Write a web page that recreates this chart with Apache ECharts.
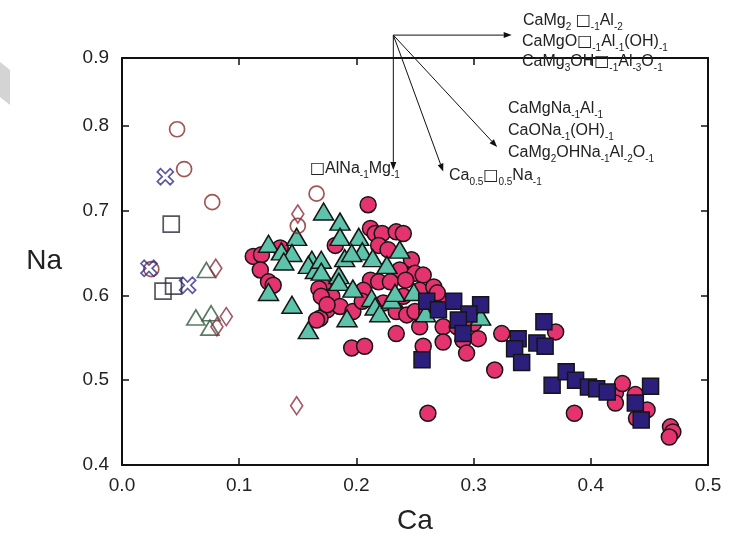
<!DOCTYPE html>
<html>
<head>
<meta charset="utf-8">
<script src="https://cdn.jsdelivr.net/npm/echarts@6/dist/echarts.min.js"></script>
<style>
  html, body { margin: 0; padding: 0; background: #fff; }
  #main { width: 733px; height: 543px; }
</style>
</head>
<body>
<div id="main"></div>
<script>
// Ca / Na data, [Ca, Na]
var openCircles = [[0.047, 0.796], [0.053, 0.749], [0.077, 0.710], [0.025, 0.631], [0.166, 0.720], [0.150, 0.682]];
var openCrosses = [[0.037, 0.740], [0.023, 0.632], [0.056, 0.612]];
var openSquares = [[0.042, 0.684], [0.035, 0.605], [0.044, 0.611]];
var openTriangles = [[0.072, 0.630], [0.063, 0.574], [0.076, 0.579], [0.075, 0.562]];
var openDiamonds = [[0.080, 0.632], [0.089, 0.575], [0.081, 0.563], [0.150, 0.696], [0.149, 0.470]];

var filledCircles = [
  [0.210, 0.707], [0.212, 0.679], [0.216, 0.673], [0.222, 0.673], [0.234, 0.675], [0.240, 0.673],
  [0.219, 0.659], [0.182, 0.659], [0.227, 0.654], [0.247, 0.642], [0.237, 0.630], [0.250, 0.626],
  [0.212, 0.618], [0.219, 0.616], [0.229, 0.616], [0.242, 0.618], [0.257, 0.624], [0.172, 0.610],
  [0.179, 0.599], [0.206, 0.606], [0.240, 0.599], [0.254, 0.606], [0.175, 0.583], [0.186, 0.587],
  [0.197, 0.581], [0.205, 0.593], [0.223, 0.591], [0.234, 0.581], [0.243, 0.577], [0.250, 0.581],
  [0.254, 0.563], [0.234, 0.555], [0.196, 0.538], [0.207, 0.540], [0.257, 0.540], [0.169, 0.573],
  [0.261, 0.461], [0.112, 0.646], [0.119, 0.648], [0.135, 0.656], [0.118, 0.630], [0.125, 0.616],
  [0.129, 0.612], [0.168, 0.608], [0.170, 0.599], [0.175, 0.589], [0.166, 0.571], [0.266, 0.610],
  [0.271, 0.595], [0.269, 0.603], [0.274, 0.563], [0.286, 0.563], [0.300, 0.567], [0.304, 0.549],
  [0.291, 0.547], [0.274, 0.545], [0.294, 0.532], [0.324, 0.555], [0.318, 0.512], [0.370, 0.557],
  [0.386, 0.461], [0.421, 0.485], [0.427, 0.496], [0.438, 0.483], [0.448, 0.465], [0.439, 0.455],
  [0.421, 0.473], [0.468, 0.445], [0.470, 0.439], [0.467, 0.433], [0.260, 0.579]
];
var filledTriangles = [
  [0.172, 0.699], [0.125, 0.661], [0.149, 0.669], [0.136, 0.652], [0.145, 0.650], [0.138, 0.640],
  [0.162, 0.642], [0.159, 0.636], [0.165, 0.630], [0.125, 0.604], [0.145, 0.589], [0.159, 0.559],
  [0.186, 0.687], [0.186, 0.669], [0.202, 0.669], [0.205, 0.652], [0.190, 0.644], [0.196, 0.650],
  [0.214, 0.644], [0.226, 0.636], [0.237, 0.654], [0.185, 0.624], [0.185, 0.616], [0.197, 0.608],
  [0.213, 0.597], [0.216, 0.587], [0.220, 0.579], [0.230, 0.595], [0.233, 0.603], [0.249, 0.604],
  [0.192, 0.573], [0.170, 0.642], [0.170, 0.628], [0.259, 0.579], [0.306, 0.575]
];
var filledSquares = [
  [0.260, 0.593], [0.270, 0.583], [0.283, 0.593], [0.306, 0.589], [0.296, 0.578], [0.287, 0.571],
  [0.291, 0.555], [0.256, 0.524], [0.338, 0.549], [0.335, 0.537], [0.341, 0.521], [0.354, 0.544],
  [0.361, 0.540], [0.360, 0.569], [0.367, 0.494], [0.379, 0.510], [0.387, 0.500], [0.398, 0.492],
  [0.405, 0.490], [0.414, 0.486], [0.438, 0.473], [0.443, 0.453], [0.451, 0.493]
];

// exchange vectors: start point and arrow ends, in [Ca, Na]
var vectorStart = [0.2315, 0.907];
var vectorEnds = [[0.3325, 0.907], [0.2315, 0.748], [0.2741, 0.746], [0.3201, 0.775]];

var font = 'Liberation Sans, Arial, sans-serif';
var crossPath = 'path://M0,2 L2,0 L5,3 L8,0 L10,2 L7,5 L10,8 L8,10 L5,7 L2,10 L0,8 L3,5 Z';

var chart = echarts.init(document.getElementById('main'));

function openSeries(data, symbol, size, color) {
  return {
    type: 'scatter', data: data, symbol: symbol, symbolSize: size,
    itemStyle: { color: 'rgba(255,255,255,0)', borderColor: color, borderWidth: 1.7 },
    emphasis: { disabled: true }, z: 5
  };
}
function filledSeries(data, symbol, size, color, z) {
  return {
    type: 'scatter', data: data, symbol: symbol, symbolSize: size,
    itemStyle: { color: color, borderColor: '#151515', borderWidth: 1.5, opacity: 1 },
    emphasis: { disabled: true }, z: z
  };
}

var axisCommon = {
  type: 'value',
  splitLine: { show: false },
  axisLine: { show: true, onZero: false, lineStyle: { color: '#111', width: 2 } },
  axisTick: { show: true, inside: true, length: 7, lineStyle: { color: '#111', width: 1.5 } }
};

var option = {
  animation: false,
  backgroundColor: '#fff',
  textStyle: { fontFamily: font },
  grid: { left: 122, right: 25, top: 58, bottom: 78 },
  xAxis: [
    Object.assign({}, axisCommon, {
      position: 'bottom', min: 0, max: 0.5, interval: 0.1,
      axisLabel: { fontSize: 19, color: '#222', margin: 11, fontFamily: font,
        formatter: function (v) { return v.toFixed(1); } },
      name: 'Ca', nameLocation: 'middle', nameGap: 42,
      nameTextStyle: { fontSize: 28, color: '#222', fontFamily: font }
    }),
    Object.assign({}, axisCommon, {
      position: 'top', min: 0, max: 0.5, interval: 0.1, axisLabel: { show: false }
    })
  ],
  yAxis: [
    Object.assign({}, axisCommon, {
      position: 'left', min: 0.4, max: 0.88, interval: 0.1,
      axisLabel: { fontSize: 19, color: '#222', margin: 13, fontFamily: font,
        formatter: function (v) { return v > 0.85 ? '0.9' : v.toFixed(1); } },
      name: 'Na', nameLocation: 'middle', nameGap: 60, nameRotate: 0,
      nameTextStyle: { fontSize: 28, color: '#222', fontFamily: font, padding: [20, 0, 0, 0] }
    }),
    Object.assign({}, axisCommon, {
      position: 'right', min: 0.4, max: 0.88, interval: 0.1, axisLabel: { show: false }
    })
  ],
  series: [
    filledSeries(filledCircles, 'circle', 16, '#e4336e', 2),
    filledSeries(filledTriangles, 'triangle', [20, 17], '#5dc3aa', 3),
    filledSeries(filledSquares, 'rect', 16, '#2c1f7c', 4),
    openSeries(openCircles, 'circle', 15, '#8a2a2a'),
    openSeries(openCrosses, crossPath, 16, '#342f8a'),
    openSeries(openSquares, 'rect', 16, '#2c2c38'),
    openSeries(openTriangles, 'triangle', [18, 15], '#2f5a3e'),
    openSeries(openDiamonds, 'diamond', [12, 18], '#912c40')
  ]
};
chart.setOption(option);

// formula labels
var rich = {
  s: { fontSize: 10, fontFamily: font, fill: '#222', verticalAlign: 'bottom', lineHeight: 22 },
  b: { fontSize: 16, fontFamily: 'DejaVu Sans', fill: '#222', lineHeight: 22 }
};
function label(x, y, text) {
  return {
    type: 'text', x: x, y: y, z: 20, silent: true,
    style: { text: text, rich: rich, fontSize: 16, fontFamily: font, fill: '#222',
      textVerticalAlign: 'middle', lineHeight: 22 }
  };
}
var graphics = [
  label(523, 21, 'CaMg{s|2} {b|□}{s|-1}Al{s|-2}'),
  label(522, 42, 'CaMgO{b|□}{s|-1}Al{s|-1}(OH){s|-1}'),
  label(522, 62, 'CaMg{s|3}OH{b|□}{s|-1}Al{s|-3}O{s|-1}'),
  label(508, 109, 'CaMgNa{s|-1}Al{s|-1}'),
  label(508, 131, 'CaONa{s|-1}(OH){s|-1}'),
  label(508, 153, 'CaMg{s|2}OHNa{s|-1}Al{s|-2}O{s|-1}'),
  label(449, 176, 'Ca{s|0.5}{b|□}{s|0.5}Na{s|-1}'),
  label(310, 169, '{b|□}AlNa{s|-1}Mg{s|-1}'),
  { type: 'polygon', silent: true, z: 0,
    shape: { points: [[0, 62], [10, 70], [10, 105], [0, 97]] }, style: { fill: '#d4d4d4' } }
];

// arrows via the axes' own scale
var p0 = chart.convertToPixel({ gridIndex: 0 }, vectorStart);
vectorEnds.forEach(function (end) {
  var p1 = chart.convertToPixel({ gridIndex: 0 }, end);
  var dx = p1[0] - p0[0], dy = p1[1] - p0[1];
  var len = Math.sqrt(dx * dx + dy * dy);
  var ux = dx / len, uy = dy / len;
  var hl = 8, hw = 3;
  var bx = p1[0] - ux * hl, by = p1[1] - uy * hl;
  graphics.push({
    type: 'line', silent: true, z: 20,
    shape: { x1: p0[0], y1: p0[1], x2: bx, y2: by },
    style: { stroke: '#111', lineWidth: 1 }
  });
  graphics.push({
    type: 'polygon', silent: true, z: 20,
    shape: { points: [[p1[0], p1[1]], [bx - uy * hw, by + ux * hw], [bx + uy * hw, by - ux * hw]] },
    style: { fill: '#111' }
  });
});
chart.setOption({ graphic: graphics });
</script>
</body>
</html>
